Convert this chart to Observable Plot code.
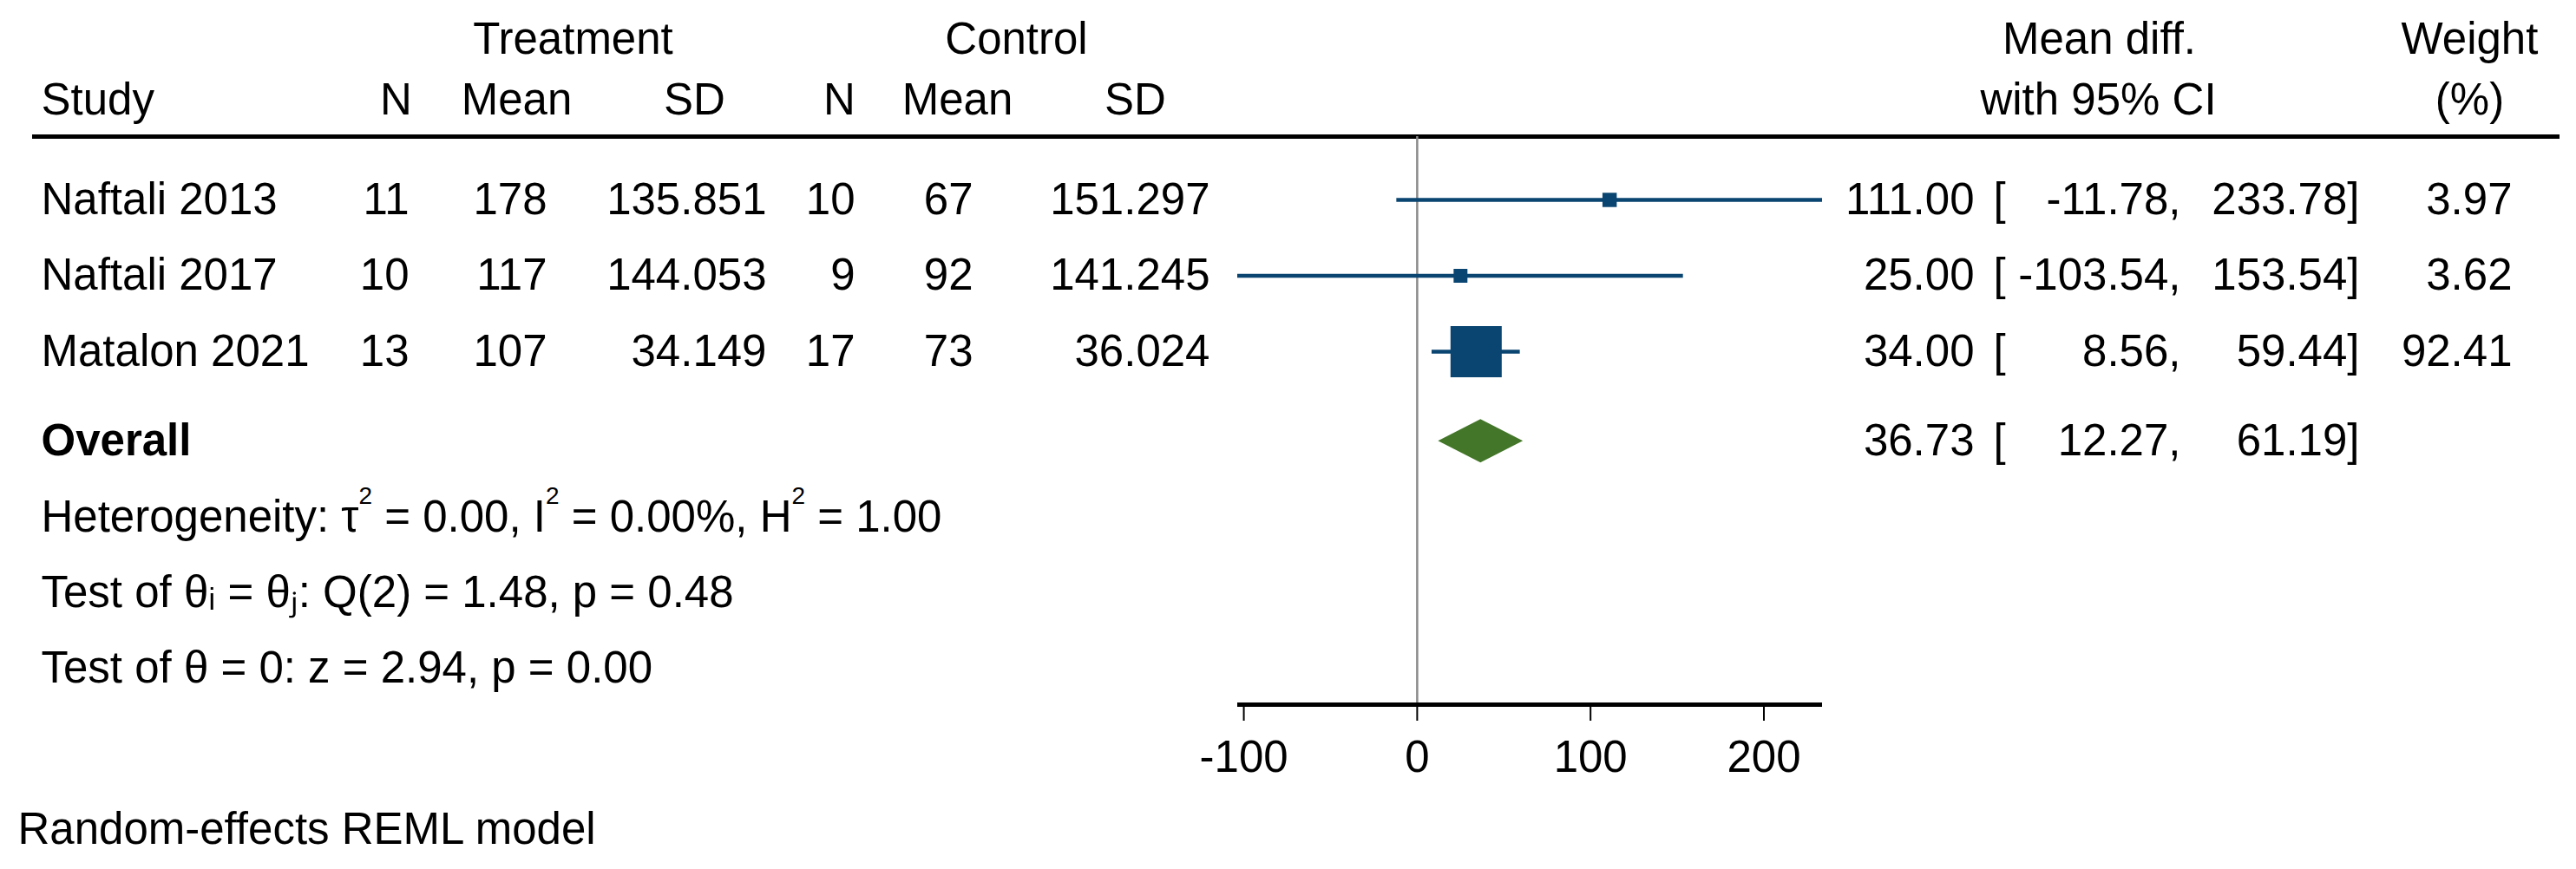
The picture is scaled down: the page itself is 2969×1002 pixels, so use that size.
<!DOCTYPE html>
<html><head><meta charset="utf-8">
<script src="https://cdn.jsdelivr.net/npm/d3@7"></script>
<script src="https://cdn.jsdelivr.net/npm/@observablehq/plot@0.6"></script>
<style>html,body{margin:0;padding:0;background:#fff;overflow:hidden}</style>
</head><body><div id="chart"></div>
<script>
// ---- data ----
const studies = ["Naftali 2013", "Naftali 2017", "Matalon 2021"];
const treatN = [11, 10, 13];
const treatMean = [178, 117, 107];
const treatSD = [135.851, 144.053, 34.149];
const ctrlN = [10, 9, 17];
const ctrlMean = [67, 92, 73];
const ctrlSD = [151.297, 141.245, 36.024];
const meanDiff = [111.00, 25.00, 34.00];
const ciLower = [-11.78, -103.54, 8.56];
const ciUpper = [233.78, 153.54, 59.44];
const weights = [3.97, 3.62, 92.41];
const overallLabel = "Overall";
const overallDiff = 36.73, overallLower = 12.27, overallUpper = 61.19;
const statLines = [
  "Heterogeneity: τ² = 0.00, I² = 0.00%, H² = 1.00",
  "Test of θᵢ = θⱼ: Q(2) = 1.48, p = 0.48",
  "Test of θ = 0: z = 2.94, p = 0.00"
];
const groupHeaders = ["Treatment", "Control"];
const colHeaders = ["Study", "N", "Mean", "SD", "N", "Mean", "SD"];
const esHeaders = ["Mean diff.", "with 95% CI"];
const wHeaders = ["Weight", "(%)"];
const xTicks = [-100, 0, 100, 200];
const note = "Random-effects REML model";

// ---- layout (row positions in row units, columns in pixels) ----
const ROW = {group: -2.114, head: -1.314, rule: -0.834, overall: 3.18, stats: [4.19, 5.18, 6.17], axis: 6.651, note: 8.297};
const NAVY = "#0a4571", GREEN = "#437628", GRAY = "#8a8a8a";
const FS = 51;

const rows = studies.map((s, i) => ({
  row: i, study: s,
  tN: String(treatN[i]), tMean: String(treatMean[i]), tSD: treatSD[i].toFixed(3),
  cN: String(ctrlN[i]), cMean: String(ctrlMean[i]), cSD: ctrlSD[i].toFixed(3),
  es: meanDiff[i], lo: ciLower[i], hi: ciUpper[i], w: weights[i],
  esT: meanDiff[i].toFixed(2), loT: ciLower[i].toFixed(2) + ",", hiT: ciUpper[i].toFixed(2) + "]",
  wT: weights[i].toFixed(2)
}));
const overallRow = {row: ROW.overall, study: overallLabel,
  esT: overallDiff.toFixed(2), loT: overallLower.toFixed(2) + ",", hiT: overallUpper.toFixed(2) + "]"};

const diamond = [
  {y: ROW.overall - 0.286, x1: overallDiff, x2: overallDiff},
  {y: ROW.overall, x1: overallLower, x2: overallUpper},
  {y: ROW.overall + 0.286, x1: overallDiff, x2: overallDiff}
];

const txt = (data, opts) => Plot.text(data, {frameAnchor: "left", fontSize: FS, fill: "black", ...opts});
const col = (key, dx, anchor, data = rows) => txt(data, {y: "row", text: key, dx, textAnchor: anchor});
const single = (s, y, dx, anchor, extra = {}) => txt([s], {y: () => y, text: d => d, dx, textAnchor: anchor, ...extra});

const chart = Plot.plot({
  width: 2969, height: 1002,
  marginTop: 0, marginLeft: 0, marginRight: 0, marginBottom: 190,
  style: {fontFamily: "'Liberation Sans', Arial, sans-serif", background: "white"},
  x: {domain: [d3.min(ciLower), d3.max(ciUpper)], range: [1426, 2100]},
  y: {type: "linear", domain: [-2.6286, 8.823], range: [0, 1002], axis: null},
  r: {type: "sqrt", domain: [3.62, 92.41], range: [9, 33.3]},
  marks: [
    Plot.ruleY([ROW.rule], {insetLeft: 37, insetRight: 19, stroke: "black", strokeWidth: 5}),
    Plot.ruleX([0], {y1: ROW.rule, y2: ROW.axis, stroke: GRAY, strokeWidth: 2.5}),
    Plot.ruleY([ROW.axis], {x1: d3.min(ciLower), x2: d3.max(ciUpper), stroke: "black", strokeWidth: 5}),
    Plot.axisX({ticks: xTicks, tickSize: 19, tickPadding: 22, tickFormat: d => String(d), fontSize: FS, strokeWidth: 2, label: null, anchor: "bottom"}),
    Plot.ruleY(rows, {y: "row", x1: "lo", x2: "hi", stroke: NAVY, strokeWidth: 4.5}),
    Plot.dot(rows, {x: "es", y: "row", r: "w", symbol: "square", fill: NAVY, stroke: "none"}),
    Plot.areaX(diamond, {y: "y", x1: "x1", x2: "x2", fill: GREEN}),
    single(groupHeaders[0], ROW.group, 660, "middle"),
    single(groupHeaders[1], ROW.group, 1171, "middle"),
    single(colHeaders[0], ROW.head, 47, "start"),
    single(colHeaders[1], ROW.head, 456, "middle"),
    single(colHeaders[2], ROW.head, 595, "middle"),
    single(colHeaders[3], ROW.head, 800, "middle"),
    single(colHeaders[4], ROW.head, 967, "middle"),
    single(colHeaders[5], ROW.head, 1103, "middle"),
    single(colHeaders[6], ROW.head, 1308, "middle"),
    single(esHeaders[0], ROW.group, 2419, "middle"),
    single(esHeaders[1], ROW.head, 2418, "middle"),
    single(wHeaders[0], ROW.group, 2846, "middle"),
    single(wHeaders[1], ROW.head, 2846, "middle"),
    col("study", 47, "start"),
    col("tN", 471, "end"),
    col("tMean", 630, "end"),
    col("tSD", 883, "end"),
    col("cN", 985, "end"),
    col("cMean", 1121, "end"),
    col("cSD", 1394, "end"),
    col("esT", 2275, "end"),
    txt(rows, {y: "row", text: () => "[", dx: 2297, textAnchor: "start"}),
    col("loT", 2513, "end"),
    col("hiT", 2719, "end"),
    col("wT", 2895, "end"),
    txt([overallRow], {y: "row", text: "study", dx: 47, textAnchor: "start", fontWeight: "bold"}),
    col("esT", 2275, "end", [overallRow]),
    txt([overallRow], {y: "row", text: () => "[", dx: 2297, textAnchor: "start"}),
    col("loT", 2513, "end", [overallRow]),
    col("hiT", 2719, "end", [overallRow]),
    txt(statLines.map((s, i) => ({s, y: ROW.stats[i]})), {y: "y", text: "s", dx: 47, textAnchor: "start"}),
    single(note, ROW.note, 20, "start")
  ]
});

// render "²" as a raised small superscript, as in the original
d3.select(chart).selectAll("text").each(function () {
  const t = this.textContent;
  if (!t.includes("²")) return;
  const parts = t.split("²");
  const sel = d3.select(this);
  sel.text(null);
  parts.forEach((p, i) => {
    const ts = sel.append("tspan").text(p);
    if (i > 0) ts.attr("dy", 32);
    if (i < parts.length - 1) {
      sel.append("tspan").attr("dy", -32).attr("font-size", 28).text("2");
    }
  });
});
document.getElementById("chart").appendChild(chart);
</script>
</body></html>
